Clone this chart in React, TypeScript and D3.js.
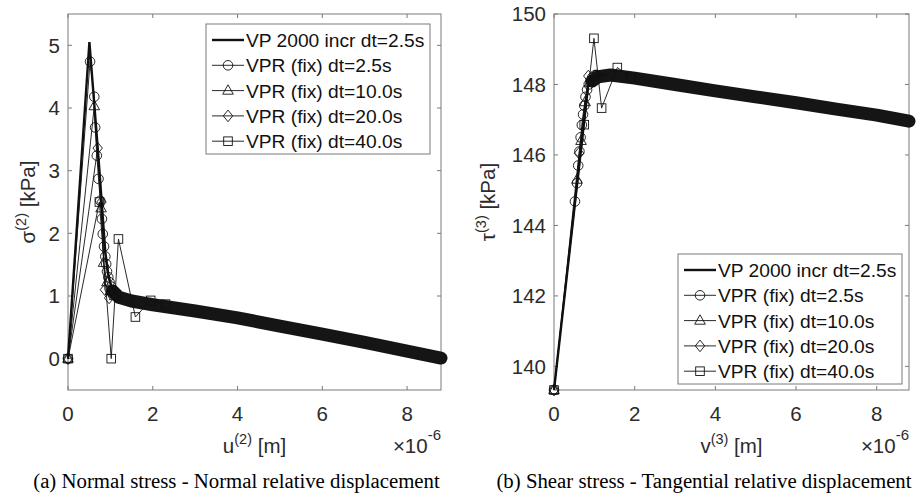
import React from "react";
import * as d3 from "d3";

// shared ticks / legend
const xTicks = [0, 2, 4, 6, 8];
const normalTicks = [0, 1, 2, 3, 4, 5];
const shearTicks = [140, 142, 144, 146, 148, 150];
const legendLabels = [
  "VP 2000 incr dt=2.5s",
  "VPR (fix) dt=2.5s",
  "VPR (fix) dt=10.0s",
  "VPR (fix) dt=20.0s",
  "VPR (fix) dt=40.0s",
];
const markerKinds = ["none", "circle", "triangle", "diamond", "square"];

// (a) normal stress vs normal displacement (u in 1e-6 m, sigma in kPa)
const vpU = [0, 0.505, 0.72, 0.88, 0.95, 1.02, 1.1, 1.25];
const vpSigma = [0, 5.05, 3.2, 1.7, 1.35, 1.15, 1.04, 0.97];
const dt25U = [0, 0.52, 0.62, 0.64, 0.68, 0.72, 0.76, 0.8, 0.82, 0.85, 0.88, 0.9, 0.92, 0.95, 0.98, 1.02, 1.06, 1.1, 1.15];
const dt25Sigma = [0, 4.74, 4.18, 3.69, 3.24, 2.87, 2.52, 2.23, 1.99, 1.79, 1.63, 1.51, 1.39, 1.3, 1.22, 1.15, 1.09, 1.04, 1.0];
const dt10U = [0, 0.62, 0.78, 0.84, 0.92, 1.0, 1.1];
const dt10Sigma = [0, 4.03, 2.4, 1.53, 1.22, 1.08, 1.0];
const dt20U = [0, 0.7, 0.79, 0.87, 0.97, 1.2];
const dt20Sigma = [0, 3.36, 2.5, 1.1, 0.97, 0.97];
const dt40U = [0, 0.74, 1.02, 1.19, 1.59, 1.95, 2.3];
const dt40Sigma = [0, 2.5, 0, 1.91, 0.665, 0.93, 0.87];
// dense overlapping markers of all runs after the peak
const bandU = [1.05, 1.2, 1.5, 2, 3, 4, 5, 6, 7, 8, 8.8];
const bandSigma = [1.08, 0.98, 0.92, 0.86, 0.76, 0.65, 0.52, 0.39, 0.26, 0.12, 0.01];

// (b) shear stress vs tangential displacement (v in 1e-6 m, tau in kPa)
const vpV = [0, 0.85, 0.95, 1.1, 1.3];
const vpTau = [139.33, 148.0, 148.15, 148.25, 148.27];
const dt25V = [0, 0.52, 0.57, 0.6, 0.63, 0.66, 0.69, 0.72, 0.75, 0.78, 0.82, 0.86, 0.9, 0.95, 1.0, 1.05];
const dt25Tau = [139.33, 144.68, 145.2, 145.7, 146.1, 146.5, 146.85, 147.15, 147.4, 147.65, 147.85, 148.0, 148.1, 148.2, 148.25, 148.27];
const dt10V = [0, 0.57, 0.67, 0.77, 0.88, 1.0];
const dt10Tau = [139.33, 145.3, 146.4, 147.5, 148.05, 148.25];
const dt20V = [0, 0.62, 0.85, 1.05];
const dt20Tau = [139.33, 146.05, 148.24, 148.25];
const dt40V = [0, 0.75, 0.99, 1.18, 1.57, 1.9];
const dt40Tau = [139.33, 146.86, 149.31, 147.33, 148.48, 148.2];
const bandV = [0.95, 1.1, 1.4, 2, 3, 4, 5, 6, 7, 8, 8.8];
const bandTau = [148.1, 148.22, 148.27, 148.18, 148.0, 147.82, 147.65, 147.48, 147.3, 147.13, 146.96];

const SANS = "'Liberation Sans', Arial, Helvetica, sans-serif";
const SERIF = "'Liberation Serif', 'Times New Roman', serif";
const AXIS = "#7a7a7a";
const TXT = "#2b2b2b";
const FS = 19.2; // legend
const AFS = 20.5; // ticks + axis labels

const zip = (xs: number[], ys: number[]) => xs.map((x, i) => [x, ys[i]] as [number, number]);

const Marker = ({ kind, x, y }: { kind: string; x: number; y: number }) => {
  const common = { fill: "none", stroke: "#111", strokeWidth: 0.9 };
  switch (kind) {
    case "circle":
      return <circle cx={x} cy={y} r={4.8} {...common} />;
    case "triangle":
      return <path d={`M${x},${y - 5.8}L${x + 5.3},${y + 3.6}L${x - 5.3},${y + 3.6}Z`} {...common} />;
    case "diamond":
      return <path d={`M${x},${y - 5.8}L${x + 4.7},${y}L${x},${y + 5.8}L${x - 4.7},${y}Z`} {...common} />;
    case "square":
      return <rect x={x - 4.3} y={y - 4.3} width={8.6} height={8.6} {...common} />;
    default:
      return null;
  }
};

type Panel = {
  box: [number, number, number, number];
  yDomain: [number, number];
  yTicks: number[];
  series: [number, number][][];
  band: [number, number][];
  legend: [number, number];
  xName: string;
  yName: string;
  sup: string;
  yLabelX: number;
  caption: string;
  captionX: number;
};

const Chart = ({ p }: { p: Panel }) => {
  const [left, top, right, bottom] = p.box;
  const x = d3.scaleLinear().domain([0, 8.8]).range([left, right]);
  const y = d3.scaleLinear().domain(p.yDomain).range([bottom, top]);
  const line = d3.line<[number, number]>().x(d => x(d[0])).y(d => y(d[1]));
  const cx = (left + right) / 2;
  const [lx, ly] = p.legend;
  const rowH = 25.3;

  return (
    <g>
      {/* axes box + ticks */}
      <rect x={left} y={top} width={right - left} height={bottom - top} fill="white" stroke={AXIS} strokeWidth={1} />
      {xTicks.map(t => (
        <g key={"x" + t}>
          <line x1={x(t)} x2={x(t)} y1={bottom} y2={bottom - 4} stroke={AXIS} />
          <line x1={x(t)} x2={x(t)} y1={top} y2={top + 4} stroke={AXIS} />
          <text x={x(t)} y={bottom + 30.5} textAnchor="middle" fontSize={AFS} fill={TXT} fontFamily={SANS}>{t}</text>
        </g>
      ))}
      {p.yTicks.map(t => (
        <g key={"y" + t}>
          <line x1={left} x2={left + 4} y1={y(t)} y2={y(t)} stroke={AXIS} />
          <line x1={right} x2={right - 4} y1={y(t)} y2={y(t)} stroke={AXIS} />
          <text x={left - 8} y={y(t) + 7.4} textAnchor="end" fontSize={AFS} fill={TXT} fontFamily={SANS}>{t}</text>
        </g>
      ))}

      {/* data */}
      <path d={line(p.band) || ""} fill="none" stroke="#151515" strokeWidth={13} strokeLinecap="round" strokeLinejoin="round" />
      {p.series.map((s, i) => (
        <g key={"s" + i}>
          <path d={line(s) || ""} fill="none" stroke="#111" strokeWidth={i === 0 ? 2.4 : 0.9} />
          {s.map((d, j) => <Marker key={j} kind={markerKinds[i]} x={x(d[0])} y={y(d[1])} />)}
        </g>
      ))}

      {/* legend */}
      <rect x={lx} y={ly} width={224} height={130} fill="white" stroke={AXIS} strokeWidth={1} />
      {legendLabels.map((lab, i) => {
        const ry = ly + 16 + i * rowH;
        return (
          <g key={lab}>
            <line x1={lx + 6} x2={lx + 38} y1={ry} y2={ry} stroke="#111" strokeWidth={i === 0 ? 2.4 : 0.9} />
            <Marker kind={markerKinds[i]} x={lx + 22} y={ry} />
            <text x={lx + 40} y={ry + 6.9} fontSize={FS} fill="#111" fontFamily={SANS}>{lab}</text>
          </g>
        );
      })}

      {/* labels */}
      <text x={cx} y={453} textAnchor="middle" fontSize={AFS} fill={TXT} fontFamily={SANS}>
        {p.xName}<tspan dy={-9} fontSize={14.5}>{p.sup}</tspan><tspan dy={9}> [m]</tspan>
      </text>
      <text x={right} y={453} textAnchor="end" fontSize={AFS} fill={TXT} fontFamily={SANS}>
        ×10<tspan dy={-13} fontSize={15}>-6</tspan>
      </text>
      <text transform={`translate(${p.yLabelX},202) rotate(-90)`} textAnchor="middle" fontSize={AFS} fill={TXT} fontFamily={SANS}>
        {p.yName}<tspan dy={-9} fontSize={14.5}>{p.sup}</tspan><tspan dy={9}> [kPa]</tspan>
      </text>
      <text x={p.captionX} y={488} textAnchor="middle" fontSize={20.8} fill="#000" fontFamily={SERIF}>{p.caption}</text>
    </g>
  );
};

const panelA: Panel = {
  box: [68, 14, 441, 390],
  yDomain: [-0.5, 5.5],
  yTicks: normalTicks,
  series: [zip(vpU, vpSigma), zip(dt25U, dt25Sigma), zip(dt10U, dt10Sigma), zip(dt20U, dt20Sigma), zip(dt40U, dt40Sigma)],
  band: zip(bandU, bandSigma),
  legend: [206, 24],
  xName: "u",
  yName: "σ",
  sup: "(2)",
  yLabelX: 35,
  caption: "(a) Normal stress - Normal relative displacement",
  captionX: 236.5,
};

const panelB: Panel = {
  box: [554, 14, 909, 390],
  yDomain: [139.33, 150],
  yTicks: shearTicks,
  series: [zip(vpV, vpTau), zip(dt25V, dt25Tau), zip(dt10V, dt10Tau), zip(dt20V, dt20Tau), zip(dt40V, dt40Tau)],
  band: zip(bandV, bandTau),
  legend: [678, 254],
  xName: "v",
  yName: "τ",
  sup: "(3)",
  yLabelX: 495,
  caption: "(b) Shear stress - Tangential relative displacement",
  captionX: 704,
};

export default function App() {
  return (
    <svg width={920} height={494} style={{ position: "absolute", left: 0, top: 0, background: "white" }}>
      <Chart p={panelA} />
      <Chart p={panelB} />
    </svg>
  );
}
